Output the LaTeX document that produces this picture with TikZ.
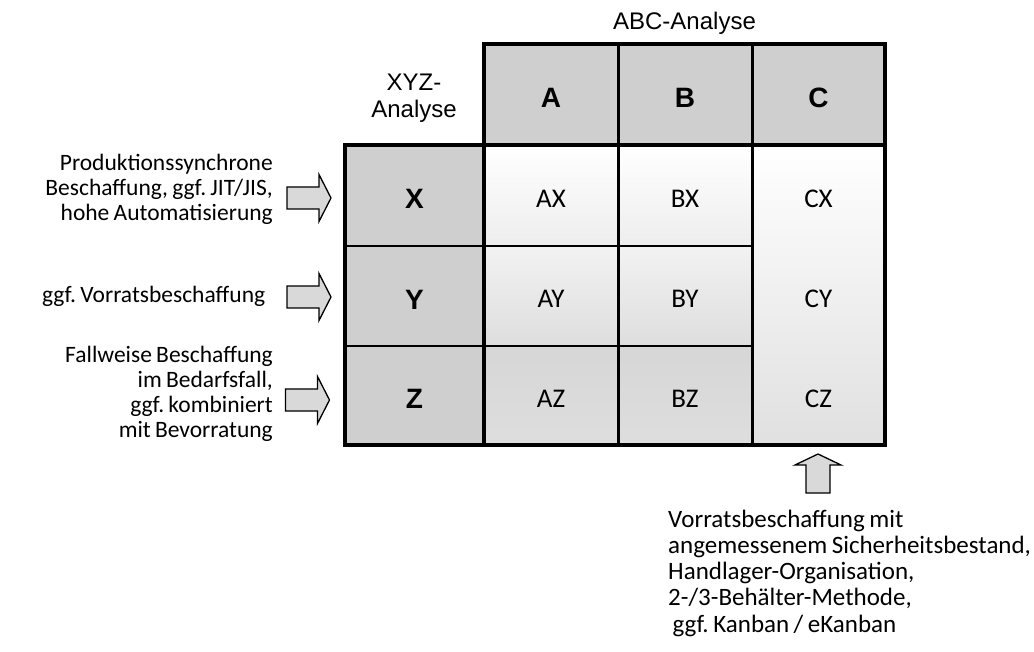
\documentclass[tikz,border=0pt]{standalone}
\usepackage{fontspec}
\setmainfont[WordSpace=0.8]{Carlito}
\newfontfamily\arialfont{Liberation Sans}
\definecolor{hdrgray}{RGB}{208,207,208}
\definecolor{arrgray}{RGB}{217,217,217}
\definecolor{cshade}{RGB}{224,224,224}
\frenchspacing
\begin{document}
\begin{tikzpicture}[x=1pt,y=-1pt,
  hdr/.style={fill=hdrgray, inner sep=0pt, minimum height=101,
    text height=27pt, text depth=0pt,
    font=\arialfont\bfseries\fontsize{28}{30}\selectfont},
  cell/.style={inner sep=0pt, minimum width=134, text height=24pt, text depth=0pt,
    font=\fontsize{27}{30}\selectfont},
  label/.style={inner sep=0pt, font=\fontsize{23.5}{25}\selectfont},
  grid/.style={line width=2.6pt},
  frame/.style={line width=4pt},
  blockarrow/.style={draw=black, line width=1.3pt, fill=arrgray, line join=miter},
  pics/rarrow/.style={code={
    \draw[blockarrow] (-22,-11) -- (10,-11) -- (10,-23.5) -- (22,0)
      -- (10,23.5) -- (10,11) -- (-22,11) -- cycle;}},
  pics/uarrow/.style={code={
    \draw[blockarrow] (-12,20) -- (-12,-8) -- (-23,-8) -- (0,-19)
      -- (23,-8) -- (12,-8) -- (12,20) -- cycle;}}
]
\useasboundingbox (0,0) rectangle (1034,652);

% header row
\node[hdr, minimum width=134] (A) at (551,94.5) {A};
\node[hdr, minimum width=134] (B) at (685,94.5) {B};
\node[hdr, minimum width=133] (C) at (818.5,94.5) {C};

% XYZ column
\node[hdr, minimum width=139, minimum height=101] (X) at (414.5,195.5) {X};
\node[hdr, minimum width=139, minimum height=100] (Y) at (414.5,296) {Y};
\node[hdr, minimum width=139, minimum height=99]  (Z) at (414.5,395.5) {Z};

% A/B cells
\node[cell, minimum height=101, top color=white, bottom color=black!7] (AX) at (551,195.5) {AX};
\node[cell, minimum height=101, top color=white, bottom color=black!7] (BX) at (685,195.5) {BX};
\node[cell, minimum height=100, top color=black!5, bottom color=black!13] (AY) at (551,296) {AY};
\node[cell, minimum height=100, top color=black!5, bottom color=black!13] (BY) at (685,296) {BY};
\node[cell, minimum height=99, top color=black!16, bottom color=black!13] (AZ) at (551,395.5) {AZ};
\node[cell, minimum height=99, top color=black!16, bottom color=black!13] (BZ) at (685,395.5) {BZ};

% C column as one shaded block
\node[inner sep=0pt, minimum width=133, minimum height=300, top color=white,
  bottom color=cshade, draw=black!35, line width=0.6pt] (Ccol) at (818.5,295) {};
\node[cell, minimum width=133, minimum height=101] (CX) at (818.5,195.5) {CX};
\node[cell, minimum width=133, minimum height=100] (CY) at (818.5,296) {CY};
\node[cell, minimum width=133, minimum height=99] (CZ) at (818.5,395.5) {CZ};

% inner grid lines
\draw[grid] (A.north east) -- (A.south east);
\draw[grid] (B.north east) -- (B.south east);
\draw[grid] (AX.north east) -- (AZ.south east);
\draw[grid] (BX.north east) -- (BZ.south east);
\draw[grid] (X.south west) -- (BX.south east);
\draw[grid] (Y.south west) -- (BY.south east);
\draw[frame] (X.north east) -- (Z.south east);

% outer frames
\draw[frame] (A.north west) rectangle (C.south east);
\draw[frame] (X.north west) rectangle (Ccol.south east);

% headings
\node[inner sep=0pt, font=\arialfont\fontsize{24}{26}\selectfont] (abc) at (684.5,23) {ABC-Analyse};
\node[inner sep=0pt, align=center, font=\arialfont\fontsize{24}{27}\selectfont] (xyz) at (414,98) {XYZ-\\Analyse};

% side labels
\node[label, align=right, anchor=east] (lx) at (273,189) {Produktionssynchrone\\Beschaffung, ggf. JIT/JIS,\\hohe Automatisierung};
\node[label, anchor=west] (ly) at (42,296) {ggf. Vorratsbeschaffung};
\node[label, align=right, anchor=east] (lz) at (273,394) {Fallweise Beschaffung\\im Bedarfsfall,\\ggf. kombiniert\\mit Bevorratung};
\node[inner sep=0pt, align=left, anchor=west, font=\fontsize{25}{26.25}\selectfont] (lc) at (668,573) {Vorratsbeschaffung mit\\angemessenem Sicherheitsbestand,\\Handlager-Organisation,\\2-/3-Behälter-Methode,\\\ ggf. Kanban / eKanban};

% block arrows
\coordinate (ax) at (309,198);
\coordinate (ay) at (309,297);
\coordinate (az) at (307.5,400);
\coordinate (ac) at (818,473);
\pic at (ax) {rarrow};
\pic at (ay) {rarrow};
\pic at (az) {rarrow};
\pic at (ac) {uarrow};
\end{tikzpicture}
\end{document}
